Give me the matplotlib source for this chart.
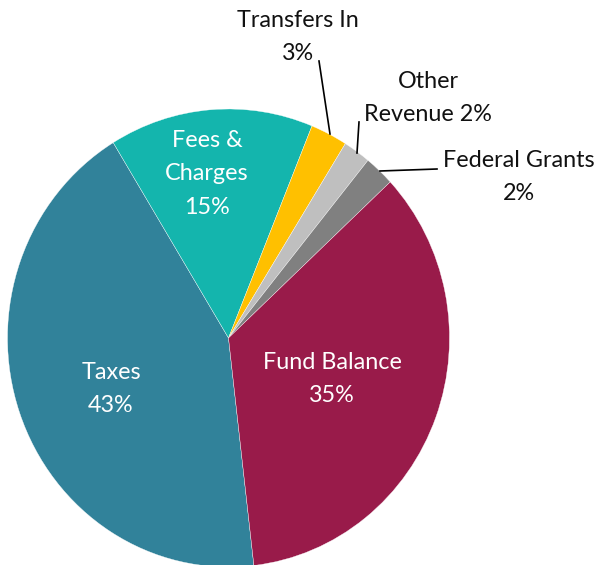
import matplotlib
matplotlib.use("Agg")
import matplotlib.pyplot as plt

categories = ["Taxes", "Fees & Charges", "Transfers In", "Other Revenue", "Federal Grants", "Fund Balance"]
values = [43.1, 14.9, 2.7, 2.0, 2.2, 35.1]
pct_labels = ["43%", "15%", "3%", "2%", "2%", "35%"]
colors = ["#31829A", "#14B5AD", "#FFC000", "#BFBFBF", "#808080", "#991B4A"]

W, H = 596, 565
fig = plt.figure(figsize=(W / 100, H / 100), dpi=100)
# pie ellipse: x from 7.5 to 449.5 px, y from 109 to 567 px (top-down)
cx, cy, rx, ry = 228.5, 338.0, 221.0, 229.0
ax = fig.add_axes([(cx - rx) / W, (H - (cy + ry)) / H, 2 * rx / W, 2 * ry / H])

wedges, _ = ax.pie(values, colors=colors, startangle=276.6, counterclock=False,
                   radius=1.0, wedgeprops=dict(edgecolor="white", linewidth=0.25))
ax.set_aspect("auto")
ax.set_xlim(-1, 1)
ax.set_ylim(-1, 1)
ax.axis("off")


def P(px, py):
    return ((px - cx) / rx, (cy - py) / ry)


font = ["Lato", "DejaVu Sans"]
fs = 16.8
ls = 1.72

inside = {
    "Taxes": ((111, 389), "white", "Taxes\n43%"),
    "Fees & Charges": ((207, 174), "white", "Fees &\nCharges\n15%"),
    "Fund Balance": ((332, 379), "white", "Fund Balance\n35%"),
}
for name, (pos, col, txt) in inside.items():
    x, y = P(*pos)
    ax.text(x, y, txt, ha="center", va="center", color=col, fontsize=fs,
            family=font, linespacing=ls)

outside = [
    ((298, 37), "Transfers In\n3%", [(319, 61), (330, 134)]),
    ((428, 98), "Other\nRevenue 2%", [(359, 122), (357, 153)]),
    ((519, 177), "Federal Grants\n2%", [(437, 169), (380, 171)]),
]
for pos, txt, line in outside:
    x, y = P(*pos)
    ax.text(x, y, txt, ha="center", va="center", color="#111111", fontsize=fs,
            family=font, linespacing=ls, clip_on=False)
    (x0, y0), (x1, y1) = P(*line[0]), P(*line[1])
    ax.plot([x0, x1], [y0, y1], color="black", lw=1.2, clip_on=False)

fig.savefig("out.png", dpi=100)
